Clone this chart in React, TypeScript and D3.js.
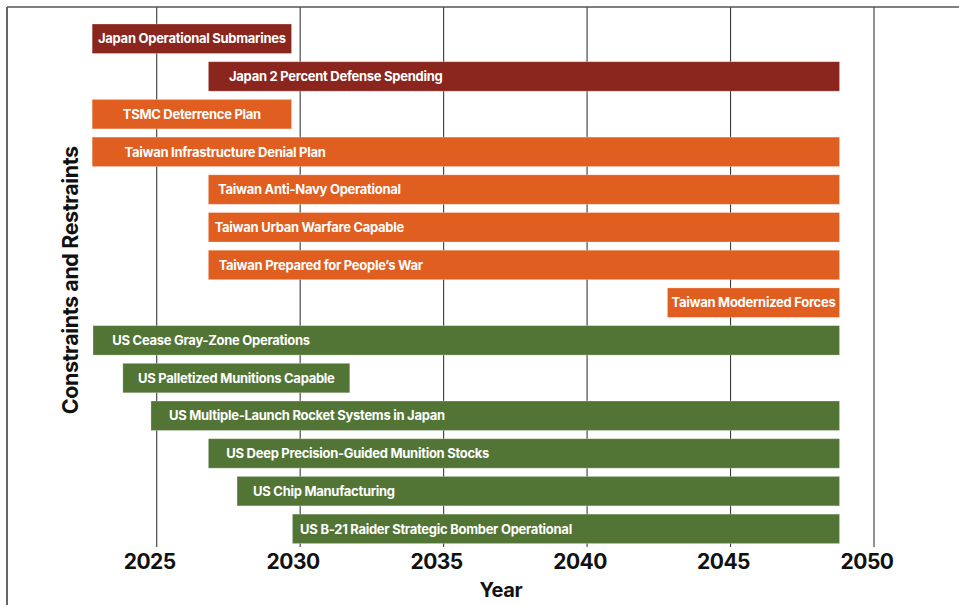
import React from "react";
import * as d3 from "d3";

const LABELS = [
  "Japan Operational Submarines",
  "Japan 2 Percent Defense Spending",
  "TSMC Deterrence Plan",
  "Taiwan Infrastructure Denial Plan",
  "Taiwan Anti-Navy Operational",
  "Taiwan Urban Warfare Capable",
  "Taiwan Prepared for People\u2019s War",
  "Taiwan Modernized Forces",
  "US Cease Gray-Zone Operations",
  "US Palletized Munitions Capable",
  "US Multiple-Launch Rocket Systems in Japan",
  "US Deep Precision-Guided Munition Stocks",
  "US Chip Manufacturing",
  "US B-21 Raider Strategic Bomber Operational",
];
const STARTS = [
  2022.75, 2026.8, 2022.75, 2022.75, 2026.8, 2026.8, 2026.8, 2042.8,
  2022.78, 2023.82, 2024.8, 2026.8, 2027.8, 2029.73,
];
const ENDS = [
  2029.7, 2048.8, 2029.7, 2048.8, 2048.8, 2048.8, 2048.8, 2048.8,
  2048.8, 2031.73, 2048.8, 2048.8, 2048.8, 2048.8,
];
const GROUPS = [
  "Japan", "Japan", "Taiwan", "Taiwan", "Taiwan", "Taiwan", "Taiwan", "Taiwan",
  "US", "US", "US", "US", "US", "US",
];
const TICKS = [2025, 2030, 2035, 2040, 2045, 2050];

// layout / style constants
const COLORS: Record<string, string> = {
  Japan: "#8a261e",
  Taiwan: "#e05e20",
  US: "#527535",
};
// label placement: null = centered in bar, number = inset from bar start (px)
const LABEL_INSET: (number | null)[] = [
  null, 20.7, null, 32.3, 9.7, 6.3, 10.3, null, 19.3, null, 18, 18, 16, 7.7,
];
const FONT = "Inter, 'Liberation Sans', sans-serif";

export default function App() {
  const W = 959;
  const H = 605;
  const x = d3.scaleLinear().domain([2025, 2050]).range([156.7, 874]);
  const rowsTop = 24;
  const step = 37.7;
  const y = d3
    .scaleBand<number>()
    .domain(d3.range(LABELS.length))
    .range([rowsTop, rowsTop + step * (LABELS.length - 1) + 29.5])
    .paddingInner(8.2 / 37.7)
    .paddingOuter(0);
  const bw = y.bandwidth();
  const gridTop = 7;
  const gridBottom = 547;

  return (
    <svg
      width={W}
      height={H}
      style={{ position: "fixed", left: 0, top: 0, background: "#fff" }}
      fontFamily={FONT}
    >
      <rect x={0} y={0} width={W} height={H} fill="#fff" />
      {TICKS.map((t) => (
        <line
          key={"g" + t}
          x1={x(t)}
          x2={x(t)}
          y1={gridTop}
          y2={gridBottom}
          stroke="#3a3a3a"
          strokeWidth={1.1}
        />
      ))}
      {LABELS.map((lab, i) => {
        const x0 = x(STARTS[i]);
        const x1 = x(ENDS[i]);
        const yy = y(i)!;
        const inset = LABEL_INSET[i];
        const tx = inset === null ? (x0 + x1) / 2 : x0 + inset;
        return (
          <g key={lab}>
            <rect
              x={x0}
              y={yy}
              width={x1 - x0}
              height={bw}
              fill={COLORS[GROUPS[i]]}
              stroke="#fff"
              strokeOpacity={0.35}
              strokeWidth={0.8}
            />
            <text
              x={tx}
              y={yy + bw / 2}
              dy="0.36em"
              textAnchor={inset === null ? "middle" : "start"}
              fill="#fff"
              fontSize={13}
              fontWeight={700}
              letterSpacing={-0.28}
            >
              {lab}
            </text>
          </g>
        );
      })}
      {TICKS.map((t) => (
        <text
          key={"t" + t}
          x={x(t) - 7}
          y={569.3}
          textAnchor="middle"
          fontSize={21}
          fontWeight={700}
          fill="#111"
          letterSpacing={-0.5}
        >
          {t}
        </text>
      ))}
      <text
        x={500.8}
        y={597}
        textAnchor="middle"
        fontSize={20}
        fontWeight={700}
        fill="#111"
        letterSpacing={-0.4}
      >
        Year
      </text>
      <text
        transform="translate(77.5,280.3) rotate(-90)"
        textAnchor="middle"
        fontSize={21.5}
        fontWeight={700}
        fill="#111"
        letterSpacing={-0.4}
      >
        Constraints and Restraints
      </text>
      <line x1={7} x2={W} y1={7} y2={7} stroke="#555" strokeWidth={1.6} />
      <line x1={7} x2={7} y1={7} y2={H} stroke="#666" strokeWidth={2} />
    </svg>
  );
}
